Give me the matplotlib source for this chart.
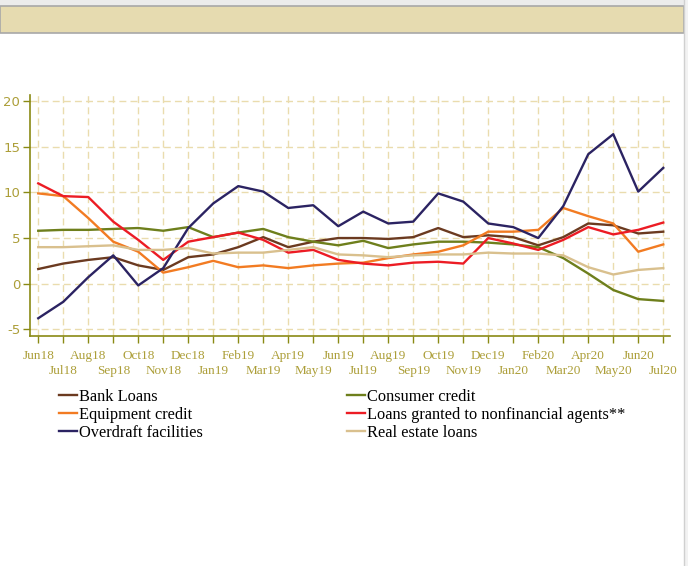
import matplotlib.pyplot as plt
import matplotlib.patches as mpatches
import numpy as np

plt.rcParams["axes.unicode_minus"] = False

# months Jun18 .. Jul20
months = ["Jun18", "Jul18", "Aug18", "Sep18", "Oct18", "Nov18", "Dec18", "Jan19", "Feb19",
          "Mar19", "Apr19", "May19", "Jun19", "Jul19", "Aug19", "Sep19", "Oct19", "Nov19",
          "Dec19", "Jan20", "Feb20", "Mar20", "Apr20", "May20", "Jun20", "Jul20"]

bank_loans = [1.6, 2.2, 2.6, 2.9, 2.0, 1.5, 2.9, 3.2, 4.0, 5.1, 4.0, 4.6, 5.0,
              5.0, 4.9, 5.1, 6.1, 5.1, 5.3, 5.1, 4.2, 5.1, 6.6, 6.4, 5.5, 5.7]
consumer_credit = [5.8, 5.9, 5.9, 6.0, 6.1, 5.8, 6.2, 5.1, 5.6, 6.0, 5.1, 4.6, 4.2,
                   4.7, 3.9, 4.3, 4.6, 4.6, 4.5, 4.3, 4.0, 2.8, 1.1, -0.7, -1.7, -1.9]
equipment_credit = [9.9, 9.6, 7.2, 4.6, 3.5, 1.2, 1.8, 2.5, 1.8, 2.0, 1.7, 2.0, 2.2,
                    2.3, 2.8, 3.2, 3.5, 4.2, 5.7, 5.7, 5.9, 8.3, 7.4, 6.6, 3.5, 4.3]
loans_nfa = [11.0, 9.6, 9.5, 6.8, 4.8, 2.6, 4.6, 5.1, 5.6, 4.8, 3.4, 3.7, 2.6,
             2.2, 2.0, 2.3, 2.4, 2.2, 5.0, 4.4, 3.7, 4.8, 6.2, 5.4, 5.9, 6.7]
overdraft = [-3.8, -2.0, 0.7, 3.1, -0.2, 1.7, 6.1, 8.8, 10.7, 10.1, 8.3, 8.6, 6.3,
             7.9, 6.6, 6.8, 9.9, 9.0, 6.6, 6.2, 5.0, 8.5, 14.2, 16.4, 10.1, 12.7]
real_estate = [4.0, 4.0, 4.1, 4.2, 3.7, 3.7, 3.9, 3.3, 3.4, 3.4, 3.7, 4.0, 3.2,
               3.1, 2.9, 3.1, 3.2, 3.2, 3.4, 3.3, 3.3, 3.1, 1.8, 1.0, 1.5, 1.7]

series = [
    ("Bank Loans", bank_loans, "#6b3a20"),
    ("Consumer credit", consumer_credit, "#6e7f1c"),
    ("Equipment credit", equipment_credit, "#f27b22"),
    ("Loans granted to nonfinancial agents**", loans_nfa, "#ec1c24"),
    ("Overdraft facilities", overdraft, "#2b2362"),
    ("Real estate loans", real_estate, "#d9c08e"),
]

axis_col = "#8a8a14"
label_col = "#ac9e38"

fig = plt.figure(figsize=(6.88, 5.66), dpi=100)

# header band and frame
fig.patches.append(mpatches.Rectangle((0, 1 - 6 / 566), 1, 6 / 566, transform=fig.transFigure,
                                      facecolor="#ececec", edgecolor="none"))
fig.patches.append(mpatches.Rectangle((0, 1 - 33 / 566), 684 / 688, 27 / 566, transform=fig.transFigure,
                                      facecolor="#e6dbb0", edgecolor="#a8a8a8", lw=1.2))
fig.patches.append(mpatches.Rectangle((684 / 688, 0), 4 / 688, 1, transform=fig.transFigure,
                                      facecolor="#f2f2f2", edgecolor="none"))
fig.lines.append(plt.Line2D([684 / 688, 684 / 688], [0, 1], transform=fig.transFigure,
                            color="#d0d0d0", lw=1))

ax = fig.add_axes([30 / 688, 1 - 336 / 566, 640 / 688, 241 / 566])
x = np.arange(len(months))
handles = {}
for name, vals, col in series:
    handles[name], = ax.plot(x, vals, color=col, lw=1.7, label=name, solid_joinstyle="round")

ax.set_xlim(-0.33, 25.27)
ax.set_ylim(-5.75, 20.7)
ax.set_yticks([-5, 0, 5, 10, 15, 20])

# alternate month labels on two rows
ax.set_xticks(x[::2])
ax.set_xticklabels(months[::2])
ax.set_xticks(x[1::2], minor=True)
ax.set_xticklabels(months[1::2], minor=True)
for lab in ax.get_xticklabels() + ax.get_xticklabels(minor=True):
    lab.set_fontfamily("Liberation Serif")
    lab.set_fontsize(9.5)
    lab.set_color(label_col)
for lab in ax.get_yticklabels():
    lab.set_fontfamily("DejaVu Sans")
    lab.set_fontsize(9.5)
    lab.set_color(label_col)

ax.grid(True, which="both", axis="x", color="#eadcae", lw=1, ls=(0, (5, 3)))
ax.grid(True, axis="y", color="#eadcae", lw=1, ls=(0, (5, 3)))
ax.set_axisbelow(True)
for s in ["top", "right"]:
    ax.spines[s].set_visible(False)
for s in ["left", "bottom"]:
    ax.spines[s].set_color(axis_col)
    ax.spines[s].set_linewidth(1.2)
ax.tick_params(axis="both", which="both", colors=axis_col, length=5, width=1, labelcolor=label_col)
ax.tick_params(axis="x", which="major", pad=5)
ax.tick_params(axis="x", which="minor", pad=16)
ax.tick_params(axis="y", pad=2)

# legend filled row by row as in the original
order = ["Bank Loans", "Equipment credit", "Overdraft facilities",
         "Consumer credit", "Loans granted to nonfinancial agents**", "Real estate loans"]
fig.legend([handles[n] for n in order], order, loc="upper left",
           bbox_to_anchor=(59 / 688, 1 - 389 / 566), ncol=2,
           frameon=False, prop={"family": "Liberation Serif", "size": 11.8},
           handlelength=1.1, handletextpad=0.15, columnspacing=8.75,
           labelspacing=0.12, borderaxespad=0, borderpad=0)

fig.savefig("out.png", dpi=100)
